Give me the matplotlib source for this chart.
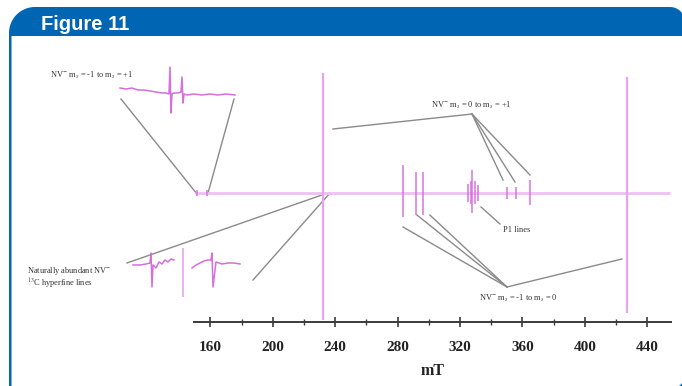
import numpy as np
import matplotlib
matplotlib.use("Agg")
import matplotlib.pyplot as plt

plt.rcParams['font.family'] = ['Liberation Serif', 'DejaVu Serif']
plt.rcParams['mathtext.fontset'] = 'stix'

# ---- data ----
# main spectrum: line positions (mT) and upper / lower excursions (arb.)
field = [151.4, 157.8, 232.2, 283.7, 291.8, 296.5, 325.0, 326.8, 328.0,
         329.6, 331.5, 350.0, 356.0, 365.0, 427.0]
amp_hi = [3, 3, 120, 28, 21, 21, 9, 12, 23, 12, 8, 6, 6, 13, 116]
amp_lo = [-3, -3, -127, -24, -22, -22, -9, -11, -20, -11, -8, -6, -6, -12, -120]
tall = [232.2, 427.0]
base_from, base_to = 150.0, 454.7

ticks_major = [160, 200, 240, 280, 320, 360, 400, 440]
ticks_minor = [180, 220, 260, 300, 340, 380, 420]

# top inset: NV- ms=-1 -> +1 (relative field, amplitude)
ins1_x = [2, 8, 14, 20, 26, 32, 38, 44, 48, 51, 52, 53, 54, 56, 60, 63, 64,
          65, 66, 69, 76, 84, 92, 100, 108, 117]
ins1_y = [5, 4, 5, 3, 3, 2, 1, 0, 0, -1, 26, -20, -1, 0, 0, 1, 16,
          -10, -1, -2, -1, -2, -1, -2, -1, -2]

# lower inset: 13C hyperfine lines
c13_left_x = [5, 12, 18, 22, 23, 24, 25, 28, 31, 34, 37, 40, 43, 46]
c13_left_y = [0, 0, 1, 2, 12, -22, 0, -3, 3, 1, 5, 3, 6, 5]
c13_right_x = [64, 68, 72, 76, 80, 83, 84, 85, 88, 94, 100, 106, 112]
c13_right_y = [-3, 0, 2, 4, 5, 5, 12, -22, 3, 1, 2, 2, 1]
c13_mid, c13_mid_hi, c13_mid_lo = 55, 17, -32

W, H = 682, 386
BLUE = '#0066b3'
PINK = '#e8a2ef'
MAG = '#d66ede'
GREY = '#8a8a8a'
TXT = '#333333'

fig = plt.figure(figsize=(W / 100, H / 100), dpi=100)


def px_rect(x0, y0, x1, y1):
    return [x0 / W, 1 - y1 / H, (x1 - x0) / W, (y1 - y0) / H]


# decoration layer in pixel coordinates (y down)
deco = fig.add_axes([0, 0, 1, 1])
deco.set_xlim(0, W)
deco.set_ylim(H, 0)
deco.axis('off')


def round_rect(x0, y0, x1, y1, r_tl, r_tr, r_br, r_bl):
    pts = []
    for (cx, cy, r, a0) in [(x0 + r_tl, y0 + r_tl, r_tl, np.pi),
                            (x1 - r_tr, y0 + r_tr, r_tr, 1.5 * np.pi),
                            (x1 - r_br, y1 - r_br, r_br, 0.0),
                            (x0 + r_bl, y1 - r_bl, r_bl, 0.5 * np.pi)]:
        t = np.linspace(a0, a0 + 0.5 * np.pi, 20)
        pts.append(np.column_stack([cx + r * np.cos(t), cy + r * np.sin(t)]))
    return np.vstack(pts)


outer = round_rect(9, 7, 685, 389, 26, 15, 10, 0)
inner = round_rect(11.5, 36, 683, 387, 0, 0, 8, 0)
deco.fill(outer[:, 0], outer[:, 1], color=BLUE, lw=0)
deco.fill(inner[:, 0], inner[:, 1], color='white', lw=0)
deco.text(41, 30, 'Figure 11', color='white', fontsize=14.5, fontweight='bold',
          family=['Liberation Sans', 'DejaVu Sans'], va='baseline', ha='left')

# main spectrum axes
ax = fig.add_axes(px_rect(194, 42, 671, 322))
ax.set_xlim(149.5, 455.3)
ax.set_ylim(-129, 151)
ax.patch.set_alpha(0)
for s in ['top', 'right', 'left']:
    ax.spines[s].set_visible(False)
ax.spines['bottom'].set_linewidth(1.4)
ax.spines['bottom'].set_color('#3a3a3a')
ax.set_yticks([])
ax.set_xticks(ticks_major)
ax.set_xticks(ticks_minor, minor=True)
ax.tick_params(axis='x', which='major', direction='inout', length=7, width=1.2,
               color='#3a3a3a', labelsize=11, pad=10, labelcolor='#222222')
ax.tick_params(axis='x', which='minor', direction='inout', length=4, width=1.0,
               color='#3a3a3a')
for lab in ax.get_xticklabels():
    lab.set_fontweight('bold')
ax.set_xlabel('mT', fontsize=11.5, fontweight='bold', color='#222222', labelpad=7)

ax.hlines(0, base_from, base_to, color='#f0bef3', lw=2.0, zorder=1)
is_tall = [f in tall for f in field]
for f, hi, lo, t in zip(field, amp_hi, amp_lo, is_tall):
    if t:
        ax.vlines(f, lo, hi, color=PINK, lw=1.6, zorder=2)
    else:
        ax.vlines(f, lo, hi, color=MAG, lw=1.4, alpha=0.75, zorder=2)

# insets
ins1 = fig.add_axes(px_rect(118, 60, 240, 118))
ins1.set_xlim(0, 122)
ins1.set_ylim(-25, 33)
ins1.axis('off')
ins1.plot(ins1_x, ins1_y, color=MAG, lw=1.1)

ins2 = fig.add_axes(px_rect(128, 243, 248, 302))
ins2.set_xlim(0, 120)
ins2.set_ylim(-37, 22)
ins2.axis('off')
ins2.plot(c13_left_x, c13_left_y, color=MAG, lw=1.1)
ins2.plot(c13_right_x, c13_right_y, color=MAG, lw=1.1)
ins2.vlines(c13_mid, c13_mid_lo, c13_mid_hi, color=PINK, lw=1.2)


def to_px(mt, a):
    return deco.transData.inverted().transform(ax.transData.transform((mt, a)))


def connect(p, q):
    deco.plot([p[0], q[0]], [p[1], q[1]], color=GREY, lw=1.0, zorder=3)


# top inset connectors
connect((121, 99), to_px(150.9, 0))
connect((234, 99), to_px(158.5, 0))
# ms 0 -> +1
apex1 = (472, 114)
connect((333, 129), apex1)
for f, a in [(347.6, 13), (355.3, 11), (364.9, 18)]:
    connect(apex1, to_px(f, a))
# P1
connect(to_px(333.5, -14), (500, 224))
# ms -1 -> 0
apex2 = (507, 287)
for f, a in [(283.5, -34), (292.4, -22), (300.7, -22), (423.8, -66)]:
    connect(apex2, to_px(f, a))
# 13C
connect((127, 263), to_px(231.5, -2))
connect((253, 280), to_px(236.7, 0))

fs = 6
deco.text(92, 75, 'NV$^{-}$ m$_s$ = -1 to m$_s$ = +1', fontsize=fs, color=TXT,
          ha='center', va='center')
deco.text(471, 105, 'NV$^{-}$ m$_s$ = 0 to m$_s$ = +1', fontsize=fs, color=TXT,
          ha='center', va='center')
deco.text(503, 230, 'P1 lines', fontsize=fs, color=TXT, ha='left', va='center')
deco.text(518, 298, 'NV$^{-}$ m$_s$ = -1 to m$_s$ = 0', fontsize=fs, color=TXT,
          ha='center', va='center')
deco.text(27, 271, 'Naturally abundant NV$^{-}$', fontsize=fs, color=TXT,
          ha='left', va='center')
deco.text(27, 284, '$^{13}$C hyperfine lines', fontsize=fs, color=TXT,
          ha='left', va='center')

fig.savefig('out.png', dpi=100)
